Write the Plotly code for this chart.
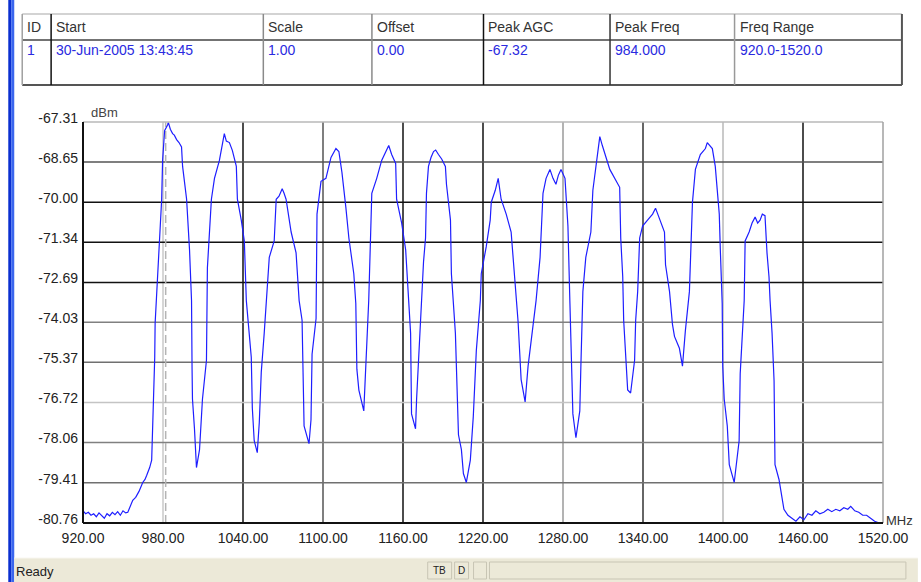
import plotly.graph_objects as go

# ---------------- data ----------------
freq_mhz = [
    920.0, 922.0, 924.0, 926.0, 928.0, 930.0, 932.0, 934.0, 936.0, 938.0,
    940.0, 942.0, 944.0, 946.0, 948.0, 950.0, 952.0, 953.6, 955.5, 957.3,
    959.5, 962.0, 964.8, 966.5, 967.8, 970.0, 971.5, 972.3, 972.6, 973.8,
    974.1, 976.0, 979.0, 979.7, 981.2, 983.5, 984.0, 985.5, 987.2, 988.5,
    990.2, 992.0, 993.9, 994.7, 997.7, 999.9, 1001.4, 1001.8, 1002.1, 1003.6,
    1005.1, 1007.4, 1009.6, 1012.6, 1013.3, 1016.3, 1018.6, 1022.3, 1024.0, 1026.0,
    1027.5, 1029.8, 1032.0, 1035.0, 1035.8, 1038.7, 1041.0, 1042.5, 1046.2, 1047.0,
    1048.4, 1049.5, 1050.7, 1052.2, 1053.7, 1055.9, 1057.4, 1059.7, 1063.4, 1064.9,
    1067.0, 1069.4, 1070.8, 1072.3, 1076.1, 1079.8, 1082.1, 1084.3, 1085.8, 1089.5,
    1091.0, 1091.8, 1094.8, 1095.5, 1098.5, 1102.2, 1106.0, 1109.7, 1111.9, 1114.2,
    1117.2, 1119.4, 1123.1, 1124.6, 1125.4, 1126.9, 1130.6, 1132.8, 1134.3, 1136.6,
    1140.3, 1144.0, 1147.8, 1149.3, 1151.5, 1154.5, 1155.2, 1159.0, 1162.0, 1164.2,
    1165.7, 1166.4, 1169.4, 1170.2, 1173.9, 1175.4, 1176.9, 1177.6, 1179.1, 1181.0,
    1182.9, 1184.5, 1186.6, 1189.0, 1191.8, 1192.6, 1195.6, 1196.3, 1197.8, 1199.3,
    1201.6, 1203.8, 1205.3, 1207.5, 1210.5, 1212.7, 1215.0, 1218.0, 1218.7, 1222.4,
    1225.4, 1226.2, 1229.2, 1231.4, 1233.6, 1237.4, 1241.1, 1244.1, 1244.9, 1246.3,
    1248.6, 1251.6, 1253.8, 1259.0, 1259.8, 1262.8, 1265.0, 1267.3, 1270.2, 1272.5,
    1274.7, 1276.5, 1278.5, 1281.5, 1283.7, 1285.2, 1286.0, 1287.4, 1289.7, 1292.6,
    1293.4, 1294.9, 1297.1, 1300.9, 1302.4, 1304.6, 1307.6, 1309.5, 1311.3, 1313.0,
    1315.1, 1318.8, 1320.5, 1322.5, 1323.3, 1324.8, 1325.5, 1327.0, 1328.5, 1330.7,
    1333.7, 1334.5, 1336.0, 1337.5, 1339.7, 1343.4, 1345.5, 1347.2, 1349.4, 1351.0,
    1353.1, 1356.1, 1356.9, 1359.9, 1362.1, 1363.6, 1367.3, 1369.6, 1371.8, 1374.8,
    1377.1, 1379.3, 1383.0, 1386.8, 1388.2, 1390.0, 1392.0, 1394.2, 1397.2, 1398.0,
    1399.4, 1399.8, 1400.9, 1403.2, 1404.7, 1408.4, 1410.6, 1412.1, 1412.9, 1414.4,
    1415.9, 1416.6, 1419.6, 1421.8, 1424.1, 1426.0, 1427.8, 1429.5, 1431.5, 1433.0,
    1434.5, 1435.3, 1436.8, 1438.3, 1438.6, 1439.0, 1442.0, 1444.2, 1445.7, 1448.7,
    1451.7, 1454.7, 1457.7, 1460.7, 1463.7, 1466.7, 1469.6, 1472.6, 1475.6, 1478.6,
    1481.6, 1484.6, 1487.6, 1490.6, 1493.6, 1495.8, 1498.8, 1501.8, 1504.8, 1507.7,
    1510.7, 1513.7, 1516.7, 1520.0,
]

level_dbm = [
    -80.35, -80.45, -80.40, -80.50, -80.45, -80.55, -80.42, -80.50, -80.60, -80.45,
    -80.52, -80.40, -80.48, -80.38, -80.50, -80.35, -80.42, -80.40, -80.20, -80.00,
    -79.90, -79.70, -79.40, -79.30, -79.16, -78.90, -78.65, -77.50, -76.65, -75.20,
    -74.06, -72.40, -69.90, -68.60, -67.60, -67.40, -67.32, -67.55, -67.70, -67.75,
    -67.90, -68.00, -68.15, -68.80, -69.90, -71.60, -73.30, -75.60, -76.60, -77.60,
    -78.90, -78.30, -76.60, -75.30, -72.20, -69.90, -69.20, -68.60, -68.20, -67.70,
    -67.95, -68.00, -68.26, -68.80, -69.90, -70.60, -71.30, -73.30, -75.20, -76.90,
    -78.00, -78.20, -78.40, -77.40, -75.70, -74.40, -73.30, -71.85, -71.30, -69.90,
    -69.80, -69.55, -69.70, -69.90, -71.00, -71.70, -73.30, -73.96, -77.50, -78.10,
    -77.30, -75.10, -73.90, -70.40, -69.30, -69.20, -68.50, -68.20, -68.30, -69.00,
    -70.20, -71.20, -72.40, -73.40, -75.60, -76.30, -77.00, -74.60, -73.30, -69.70,
    -69.20, -68.60, -68.20, -68.10, -68.40, -68.70, -69.90, -70.70, -71.60, -73.20,
    -74.40, -77.10, -77.60, -76.60, -73.30, -72.00, -71.20, -69.70, -68.80, -68.50,
    -68.30, -68.25, -68.40, -68.55, -68.80, -69.40, -70.60, -72.40, -73.40, -74.40,
    -77.80, -78.30, -79.10, -79.40, -78.65, -77.20, -74.97, -73.30, -72.40, -71.50,
    -70.60, -70.00, -69.60, -69.20, -69.90, -70.40, -71.00, -72.70, -73.40, -74.00,
    -75.95, -76.70, -75.50, -73.70, -73.30, -71.85, -69.70, -69.20, -68.90, -69.20,
    -69.40, -69.10, -68.90, -69.20, -70.80, -73.40, -75.00, -77.10, -77.90, -77.00,
    -75.50, -73.00, -71.85, -71.00, -69.60, -68.80, -67.80, -68.10, -68.40, -68.60,
    -68.90, -69.20, -69.30, -69.50, -71.20, -72.50, -73.96, -75.40, -76.30, -76.40,
    -75.30, -73.96, -73.00, -71.20, -70.80, -70.60, -70.50, -70.40, -70.20, -70.40,
    -70.60, -71.00, -72.10, -73.00, -74.10, -74.50, -74.90, -75.50, -74.30, -73.00,
    -70.00, -68.90, -68.40, -68.20, -68.00, -68.10, -68.20, -68.80, -70.40, -71.60,
    -73.40, -75.50, -76.60, -77.50, -78.80, -79.40, -78.65, -78.00, -75.75, -74.40,
    -73.30, -71.30, -71.00, -70.70, -70.50, -70.70, -70.60, -70.40, -70.45, -71.70,
    -72.50, -73.30, -74.40, -76.00, -77.30, -78.80, -79.30, -79.90, -80.30, -80.50,
    -80.60, -80.70, -80.55, -80.65, -80.45, -80.50, -80.35, -80.45, -80.40, -80.30,
    -80.38, -80.30, -80.35, -80.25, -80.30, -80.20, -80.35, -80.40, -80.50, -80.50,
    -80.60, -80.70, -80.75, -80.80,
]

x_ticks = [920, 980, 1040, 1100, 1160, 1220, 1280, 1340, 1400, 1460, 1520]
x_tick_text = ["920.00", "980.00", "1040.00", "1100.00", "1160.00", "1220.00",
               "1280.00", "1340.00", "1400.00", "1460.00", "1520.00"]
y_ticks = [-67.31, -68.65, -70.00, -71.34, -72.69, -74.03, -75.37, -76.72,
           -78.06, -79.41, -80.76]
y_tick_text = ["-67.31", "-68.65", "-70.00", "-71.34", "-72.69", "-74.03",
               "-75.37", "-76.72", "-78.06", "-79.41", "-80.76"]

marker_freq = 982.0

table_headers = ["ID", "Start", "Scale", "Offset", "Peak AGC", "Peak Freq", "Freq Range"]
table_row = ["1", "30-Jun-2005 13:43:45", "1.00", "0.00", "-67.32", "984.000", "920.0-1520.0"]

# ---------------- styling ----------------
W, H = 921, 582
L, R, T, B = 83, 886, 122, 523
FONT = "Liberation Sans, Arial, sans-serif"


def px(xp):
    return (xp - L) / (R - L)


def py(yp):
    return (B - yp) / (B - T)


vgrid_colors = {980: "#c8c8c8", 1040: "#111111", 1100: "#555555", 1160: "#111111",
                1220: "#111111", 1280: "#9a9a9a", 1340: "#333333", 1400: "#b8b8b8",
                1460: "#111111"}
hgrid_colors = {-68.65: "#555555", -70.00: "#111111", -71.34: "#111111",
                -72.69: "#111111", -74.03: "#808080", -75.37: "#707070",
                -76.72: "#c4c4c4", -78.06: "#808080", -79.41: "#707070"}

shapes = []
for xv in x_ticks[1:-1]:
    shapes.append(dict(type="line", xref="x", yref="paper", x0=xv, x1=xv, y0=0, y1=1,
                       line=dict(color=vgrid_colors.get(xv, "#888"), width=1.5), layer="below"))
for yv in y_ticks[1:-1]:
    shapes.append(dict(type="line", xref="paper", yref="y", x0=0, x1=1, y0=yv, y1=yv,
                       line=dict(color=hgrid_colors.get(yv, "#888"), width=1.5), layer="below"))
# marker dashed line
shapes.append(dict(type="line", xref="x", yref="paper", x0=marker_freq, x1=marker_freq,
                   y0=0, y1=1, line=dict(color="#b4b4b4", width=1.5, dash="8px,4px"),
                   layer="below"))
# plot borders
shapes += [
    dict(type="line", xref="paper", yref="paper", x0=0, x1=1, y0=1, y1=1,
         line=dict(color="#b8b8b8", width=1.5)),
    dict(type="line", xref="paper", yref="paper", x0=1, x1=1, y0=0, y1=1,
         line=dict(color="#a0a0a0", width=1.5)),
    dict(type="line", xref="paper", yref="paper", x0=0, x1=0, y0=0, y1=1,
         line=dict(color="#111111", width=2)),
    dict(type="line", xref="paper", yref="paper", x0=0, x1=1, y0=0, y1=0,
         line=dict(color="#111111", width=2)),
]

# left blue window bar
shapes.append(dict(type="rect", xref="paper", yref="paper", x0=px(8), x1=px(11),
                   y0=py(582), y1=py(0), fillcolor="#0a2fd0", line=dict(width=0)))
shapes.append(dict(type="rect", xref="paper", yref="paper", x0=px(11), x1=px(14),
                   y0=py(582), y1=py(0), fillcolor="#3a66ee", line=dict(width=0)))

# status bar
shapes.append(dict(type="rect", xref="paper", yref="paper", x0=px(14), x1=px(921),
                   y0=py(582), y1=py(558), fillcolor="#ece9d8", line=dict(width=0)))
shapes.append(dict(type="line", xref="paper", yref="paper", x0=px(14), x1=px(921),
                   y0=py(558), y1=py(558), line=dict(color="#f8f7f0", width=1)))
for x0s, x1s in [(429, 453), (456, 470), (475, 488), (491, 909)]:
    shapes.append(dict(type="rect", xref="paper", yref="paper", x0=px(x0s), x1=px(x1s),
                       y0=py(579), y1=py(562), fillcolor="rgba(0,0,0,0)",
                       line=dict(color="#c8c5b4", width=1)))

# table
tx0, tx1, ty0, ty1, ty_head = 22, 905, 14, 85, 40
col_x = [22, 51, 264, 373, 485, 612, 737]
col_line_colors = {51: "#111111", 264: "#8a8a8a", 373: "#8a8a8a", 485: "#111111",
                   612: "#333333", 737: "#999999"}
shapes += [
    dict(type="line", xref="paper", yref="paper", x0=px(tx0), x1=px(tx1), y0=py(ty0), y1=py(ty0),
         line=dict(color="#c4c4c4", width=1.5)),
    dict(type="line", xref="paper", yref="paper", x0=px(tx0), x1=px(tx1), y0=py(ty1), y1=py(ty1),
         line=dict(color="#555555", width=2)),
    dict(type="line", xref="paper", yref="paper", x0=px(tx0), x1=px(tx1), y0=py(ty_head), y1=py(ty_head),
         line=dict(color="#444444", width=1.5)),
    dict(type="line", xref="paper", yref="paper", x0=px(tx0), x1=px(tx0), y0=py(ty1), y1=py(ty0),
         line=dict(color="#a0a0a0", width=1.5)),
    dict(type="line", xref="paper", yref="paper", x0=px(tx1), x1=px(tx1), y0=py(ty1), y1=py(ty0),
         line=dict(color="#555555", width=2)),
]
for cx in col_x[1:]:
    shapes.append(dict(type="line", xref="paper", yref="paper", x0=px(cx), x1=px(cx),
                       y0=py(ty1), y1=py(ty0), line=dict(color=col_line_colors[cx], width=1.5)))

annotations = []
for cx, htxt, btxt in zip(col_x, table_headers, table_row):
    annotations.append(dict(xref="paper", yref="paper", x=px(cx + 3), y=py(27), text=htxt,
                            showarrow=False, xanchor="left", yanchor="middle",
                            font=dict(family=FONT, size=14, color="#333333")))
    annotations.append(dict(xref="paper", yref="paper", x=px(cx + 3), y=py(50), text=btxt,
                            showarrow=False, xanchor="left", yanchor="middle",
                            font=dict(family=FONT, size=14, color="#2a2ae0")))

annotations += [
    dict(xref="paper", yref="paper", x=px(89), y=py(112), text="dBm", showarrow=False,
         xanchor="left", yanchor="middle", font=dict(family=FONT, size=13, color="#444444")),
    dict(xref="paper", yref="paper", x=px(887), y=py(520), text="MHz", showarrow=False,
         xanchor="left", yanchor="middle", font=dict(family=FONT, size=13, color="#333333")),
    dict(xref="paper", yref="paper", x=px(14), y=py(571), text="Ready", showarrow=False,
         xanchor="left", yanchor="middle", font=dict(family=FONT, size=13, color="#222222")),
    dict(xref="paper", yref="paper", x=px(441), y=py(570), text="TB", showarrow=False,
         xanchor="center", yanchor="middle", font=dict(family=FONT, size=10, color="#222222")),
    dict(xref="paper", yref="paper", x=px(463), y=py(570), text="D", showarrow=False,
         xanchor="center", yanchor="middle", font=dict(family=FONT, size=10, color="#222222")),
]

fig = go.Figure()
fig.add_trace(go.Scatter(x=freq_mhz, y=level_dbm, mode="lines",
                         line=dict(color="#1e1eff", width=1.2), hoverinfo="x+y",
                         showlegend=False))

fig.update_layout(
    width=W, height=H,
    margin=dict(l=L, r=W - R, t=T, b=H - B, pad=0),
    paper_bgcolor="white", plot_bgcolor="white",
    shapes=shapes, annotations=annotations,
    showlegend=False,
    xaxis=dict(range=[920, 1520], tickvals=x_ticks, ticktext=x_tick_text,
               showgrid=False, zeroline=False, showline=False, ticks="",
               ticklabelstandoff=5,
               tickfont=dict(family=FONT, size=14, color="#222222")),
    yaxis=dict(range=[-80.76, -67.31], tickvals=y_ticks, ticktext=y_tick_text,
               showgrid=False, zeroline=False, showline=False, ticks="",
               ticklabelshift=-4, ticklabelstandoff=4,
               tickfont=dict(family=FONT, size=14, color="#222222")),
)

fig.write_html("out.html", config={"displayModeBar": False},
               post_script="document.body.style.margin='0';")
